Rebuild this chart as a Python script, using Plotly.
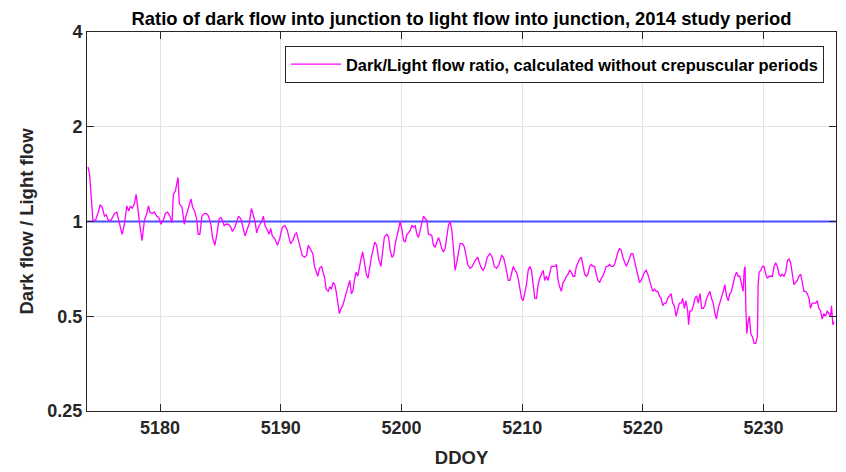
import plotly.graph_objects as go

TITLE = "Ratio of dark flow into junction to light flow into junction, 2014 study period"
SERIES_NAME = "Dark/Light flow ratio, calculated without crepuscular periods"
X_TITLE = "DDOY"
Y_TITLE = "Dark flow / Light flow"

X_RANGE = [5173.95, 5236.0]
X_TICKS = [5180, 5190, 5200, 5210, 5220, 5230]
Y_TICKS = [0.25, 0.5, 1, 2, 4]
Y_TICK_LABELS = ["0.25", "0.5", "1", "2", "4"]
REFERENCE_RATIO = 1.0

ddoy = [
    5174.03, 5174.16, 5174.44, 5174.66, 5174.85, 5175.05, 5175.21, 5175.40, 5175.54, 5175.71,
    5175.95, 5176.23, 5176.42, 5176.56, 5176.70, 5176.86, 5177.05, 5177.25, 5177.41, 5177.55,
    5177.69, 5177.88, 5178.02, 5178.16, 5178.35, 5178.51, 5178.71, 5178.90, 5179.04, 5179.17,
    5179.34, 5179.53, 5179.72, 5179.89, 5180.08, 5180.27, 5180.44, 5180.63, 5180.82, 5180.99,
    5181.10, 5181.27, 5181.49, 5181.60, 5181.82, 5182.01, 5182.15, 5182.37, 5182.56, 5182.70,
    5182.86, 5183.03, 5183.16, 5183.30, 5183.47, 5183.66, 5183.85, 5184.02, 5184.21, 5184.35,
    5184.54, 5184.71, 5184.90, 5185.04, 5185.17, 5185.31, 5185.45, 5185.67, 5185.86, 5186.00,
    5186.22,
    5186.28, 5186.50, 5186.69, 5186.88, 5187.05, 5187.24, 5187.38, 5187.57, 5187.71, 5187.87,
    5188.01, 5188.15, 5188.29, 5188.42, 5188.56, 5188.70, 5188.89, 5189.03, 5189.17, 5189.30,
    5189.52, 5189.72, 5189.91, 5190.13, 5190.35, 5190.54, 5190.68, 5190.82, 5191.01, 5191.18,
    5191.31, 5191.51, 5191.64, 5191.78, 5191.97, 5192.14, 5192.28, 5192.47, 5192.66, 5192.80,
    5192.94, 5193.07, 5193.21, 5193.38, 5193.51, 5193.65, 5193.76, 5193.93, 5194.07, 5194.20,
    5194.34, 5194.48, 5194.59, 5194.73, 5194.86, 5195.00, 5195.14, 5195.30, 5195.44, 5195.58,
    5195.72, 5195.85, 5195.97, 5196.10, 5196.24, 5196.38, 5196.52, 5196.65, 5196.79, 5196.93,
    5197.09, 5197.23, 5197.37, 5197.51, 5197.64, 5197.78, 5197.95, 5198.11, 5198.30, 5198.44,
    5198.58,
    5198.66, 5198.80, 5198.94, 5199.07, 5199.21, 5199.35, 5199.49, 5199.63, 5199.76, 5199.90,
    5200.04, 5200.18, 5200.31, 5200.45, 5200.59, 5200.73, 5200.86, 5201.00, 5201.14, 5201.28,
    5201.41, 5201.55, 5201.69, 5201.83, 5201.97, 5202.10, 5202.24, 5202.38, 5202.52, 5202.65,
    5202.79, 5202.93, 5203.07, 5203.20, 5203.34, 5203.48, 5203.62, 5203.75, 5203.89, 5204.03,
    5204.17, 5204.30, 5204.44, 5204.58, 5204.72, 5204.86, 5205.05, 5205.21, 5205.35, 5205.49,
    5205.68, 5205.87, 5206.09, 5206.31, 5206.51, 5206.64, 5206.78, 5206.92, 5207.11, 5207.33,
    5207.52, 5207.69, 5207.88, 5208.08, 5208.30, 5208.46, 5208.63, 5208.85, 5208.98, 5209.12,
    5209.26, 5209.40, 5209.53, 5209.67, 5209.81, 5209.95, 5210.08, 5210.22, 5210.36, 5210.50,
    5210.64, 5210.77, 5210.91,
    5211.05, 5211.19, 5211.32, 5211.46, 5211.60, 5211.74, 5211.87, 5212.01, 5212.15, 5212.29,
    5212.42, 5212.56, 5212.70, 5212.84, 5212.98, 5213.11, 5213.25, 5213.39, 5213.53, 5213.66,
    5213.80, 5213.94, 5214.08, 5214.21, 5214.35, 5214.49, 5214.63, 5214.76, 5214.90, 5215.04,
    5215.18, 5215.32, 5215.45, 5215.59, 5215.73, 5215.87, 5216.00, 5216.14, 5216.28, 5216.42,
    5216.55, 5216.69, 5216.83, 5216.97, 5217.10, 5217.24, 5217.38, 5217.52, 5217.66, 5217.79,
    5217.93, 5218.07, 5218.21, 5218.34, 5218.48, 5218.62, 5218.76, 5218.89, 5219.03, 5219.17,
    5219.31, 5219.44, 5219.58, 5219.72, 5219.86, 5219.99, 5220.13, 5220.27, 5220.41, 5220.55,
    5220.68, 5220.82, 5220.96, 5221.10, 5221.23, 5221.37, 5221.51, 5221.65, 5221.78, 5221.92,
    5222.06, 5222.20, 5222.34, 5222.47, 5222.61, 5222.75, 5222.89, 5223.02, 5223.16, 5223.30,
    5223.44, 5223.57, 5223.71, 5223.79, 5223.90, 5224.04, 5224.18, 5224.32, 5224.45, 5224.59,
    5224.73, 5224.87, 5225.00, 5225.14, 5225.28, 5225.42, 5225.55, 5225.69, 5225.83, 5225.97,
    5226.10, 5226.24, 5226.38, 5226.52, 5226.66, 5226.79, 5226.93, 5227.07, 5227.21, 5227.34,
    5227.48, 5227.62, 5227.76, 5227.89, 5228.03, 5228.17, 5228.31, 5228.39, 5228.47, 5228.53,
    5228.61, 5228.72, 5228.83, 5228.94, 5229.08, 5229.22, 5229.35, 5229.49, 5229.55, 5229.63,
    5229.77, 5229.90, 5230.04, 5230.18, 5230.32, 5230.45, 5230.59, 5230.73, 5230.87, 5231.00,
    5231.14, 5231.28, 5231.42, 5231.55, 5231.69, 5231.83, 5231.97, 5232.11, 5232.24, 5232.38,
    5232.52, 5232.66, 5232.79, 5232.93, 5233.07, 5233.21, 5233.34, 5233.48, 5233.62, 5233.76,
    5233.89, 5234.03, 5234.17, 5234.31, 5234.44, 5234.58, 5234.72, 5234.86, 5234.99, 5235.13,
    5235.27, 5235.41, 5235.55, 5235.63, 5235.74, 5235.83,
]

ratio = [
    1.49, 1.42, 1.01, 1.01, 1.06, 1.13, 1.11, 1.04, 1.05, 1.01,
    1.01, 1.06, 1.07, 1.01, 0.95, 0.91, 0.98, 1.12, 1.08, 1.12,
    1.10, 1.14, 1.22, 1.08, 0.96, 0.87, 1.01, 1.06, 1.12, 1.07,
    1.06, 1.07, 1.04, 1.03, 0.98, 1.01, 1.06, 1.07, 1.04, 0.99,
    1.22, 1.25, 1.38, 1.14, 1.11, 0.98, 1.04, 1.11, 1.18, 1.11,
    1.08, 1.02, 0.91, 0.91, 1.04, 1.06, 1.06, 1.04, 0.98, 0.89,
    0.84, 0.91, 1.02, 1.03, 1.01, 0.97, 0.98, 0.98, 0.96, 0.93,
    0.96,
    0.98, 1.04, 1.02, 0.96, 0.90, 0.95, 0.98, 1.10, 1.04, 1.00,
    0.92, 0.96, 0.98, 1.00, 1.04, 0.97, 0.94, 0.91, 0.95, 0.90,
    0.88, 0.84, 0.88, 0.96, 0.97, 0.94, 0.89, 0.85, 0.87, 0.91,
    0.92, 0.86, 0.83, 0.78, 0.77, 0.78, 0.84, 0.81, 0.79, 0.72,
    0.69, 0.67, 0.71, 0.72, 0.69, 0.66, 0.61, 0.60, 0.62, 0.61,
    0.64, 0.63, 0.60, 0.56, 0.51, 0.53, 0.54, 0.57, 0.60, 0.63,
    0.65, 0.59, 0.60, 0.65, 0.69, 0.67, 0.72, 0.76, 0.80, 0.73,
    0.68, 0.66, 0.72, 0.77, 0.81, 0.86, 0.84, 0.76, 0.72, 0.81,
    0.89,
    0.90, 0.91, 0.89, 0.81, 0.77, 0.78, 0.85, 0.90, 0.96, 1.00,
    0.94, 0.87, 0.86, 0.91, 0.92, 0.94, 0.97, 0.96, 0.97, 0.91,
    0.89, 0.94, 1.00, 1.04, 1.02, 1.01, 0.91, 0.91, 0.90, 0.84,
    0.83, 0.86, 0.89, 0.86, 0.82, 0.80, 0.82, 0.89, 0.97, 1.00,
    0.94, 0.83, 0.70, 0.74, 0.79, 0.85, 0.85, 0.83, 0.78, 0.73,
    0.71, 0.72, 0.75, 0.77, 0.73, 0.71, 0.70, 0.72, 0.77, 0.79,
    0.77, 0.72, 0.71, 0.73, 0.78, 0.77, 0.72, 0.65, 0.65, 0.68,
    0.72, 0.70, 0.69, 0.66, 0.61, 0.57, 0.56, 0.59, 0.63, 0.70,
    0.72, 0.70, 0.62,
    0.57, 0.57, 0.63, 0.66, 0.68, 0.70, 0.65, 0.67, 0.65, 0.68,
    0.72, 0.72, 0.72, 0.73, 0.65, 0.62, 0.60, 0.64, 0.65, 0.67,
    0.68, 0.70, 0.69, 0.67, 0.67, 0.72, 0.74, 0.76, 0.77, 0.72,
    0.68, 0.67, 0.68, 0.72, 0.73, 0.72, 0.72, 0.68, 0.65, 0.64,
    0.66, 0.67, 0.70, 0.72, 0.72, 0.73, 0.72, 0.72, 0.73, 0.77,
    0.80, 0.82, 0.81, 0.77, 0.74, 0.72, 0.74, 0.77, 0.79, 0.79,
    0.75, 0.70, 0.67, 0.64, 0.65, 0.67, 0.69, 0.70, 0.68, 0.65,
    0.62, 0.60, 0.61, 0.60, 0.60, 0.58, 0.57, 0.54, 0.55, 0.55,
    0.57, 0.58, 0.59, 0.55, 0.54, 0.50, 0.53, 0.55, 0.55, 0.57,
    0.53, 0.56, 0.52, 0.47, 0.52, 0.52, 0.54, 0.57, 0.58, 0.55,
    0.59, 0.53, 0.53, 0.54, 0.57, 0.59, 0.60, 0.57, 0.55, 0.51,
    0.49, 0.53, 0.55, 0.57, 0.60, 0.63, 0.58, 0.56, 0.59, 0.60,
    0.64, 0.67, 0.69, 0.67, 0.67, 0.63, 0.60, 0.70, 0.72, 0.53,
    0.44, 0.48, 0.50, 0.44, 0.43, 0.41, 0.41, 0.43, 0.63, 0.69,
    0.70, 0.72, 0.72, 0.68, 0.66, 0.67, 0.67, 0.67, 0.72, 0.74,
    0.72, 0.68, 0.67, 0.68, 0.67, 0.69, 0.75, 0.76, 0.74, 0.68,
    0.63, 0.64, 0.65, 0.67, 0.68, 0.64, 0.60, 0.60, 0.59, 0.57,
    0.53, 0.55, 0.55, 0.55, 0.56, 0.53, 0.52, 0.49, 0.51, 0.50,
    0.52, 0.51, 0.50, 0.54, 0.47, 0.48,
]

FONT = "Liberation Sans, Arial, Helvetica, sans-serif"
AXIS_COLOR = "#262626"
GRID_COLOR = "#e3e3e3"

fig = go.Figure()
fig.add_trace(go.Scatter(
    x=X_RANGE, y=[REFERENCE_RATIO, REFERENCE_RATIO], mode="lines",
    line=dict(color="#4d4dff", width=2), showlegend=False, hoverinfo="skip",
))
fig.add_trace(go.Scatter(
    x=ddoy, y=ratio, mode="lines", name=SERIES_NAME,
    line=dict(color="#ff00ff", width=1.3),
))

fig.update_layout(
    width=846, height=472,
    margin=dict(l=79, r=18, t=24, b=69, autoexpand=False),
    paper_bgcolor="white", plot_bgcolor="white",
    font=dict(family=FONT, size=18, color=AXIS_COLOR, weight="bold"),
    title=dict(text=TITLE, x=0.5, xref="paper", xanchor="center", y=0.978, yanchor="middle",
               font=dict(size=18.4, color="#000000", family=FONT, weight="bold")),
    showlegend=True,
    legend=dict(x=0.2644, y=0.963, xanchor="left", yanchor="top",
                bordercolor=AXIS_COLOR, borderwidth=1, bgcolor="white", itemwidth=50,
                font=dict(size=16.4, color="#000000", family=FONT, weight="bold")),
)
fig.update_xaxes(
    range=X_RANGE, tickvals=X_TICKS, showgrid=True, gridcolor=GRID_COLOR, gridwidth=1,
    showline=True, linecolor=AXIS_COLOR, linewidth=1, mirror="allticks",
    ticks="inside", ticklen=7, tickcolor=AXIS_COLOR, zeroline=False, automargin=False,
    tickfont=dict(size=18, color=AXIS_COLOR, family=FONT, weight="bold"),
    title=dict(text=X_TITLE, standoff=14, font=dict(size=18.5, color=AXIS_COLOR, family=FONT, weight="bold")),
)
fig.update_yaxes(
    type="log", range=[-0.60206, 0.60206], tickvals=Y_TICKS, ticktext=Y_TICK_LABELS,
    showgrid=True, gridcolor=GRID_COLOR, gridwidth=1,
    showline=True, linecolor=AXIS_COLOR, linewidth=1, mirror="allticks",
    ticks="inside", ticklen=7, tickcolor=AXIS_COLOR, zeroline=False, automargin=False,
    tickfont=dict(size=18, color=AXIS_COLOR, family=FONT, weight="bold"),
    title=dict(text=Y_TITLE, standoff=8, font=dict(size=18.5, color=AXIS_COLOR, family=FONT, weight="bold")),
)

fig.write_html("out.html")
